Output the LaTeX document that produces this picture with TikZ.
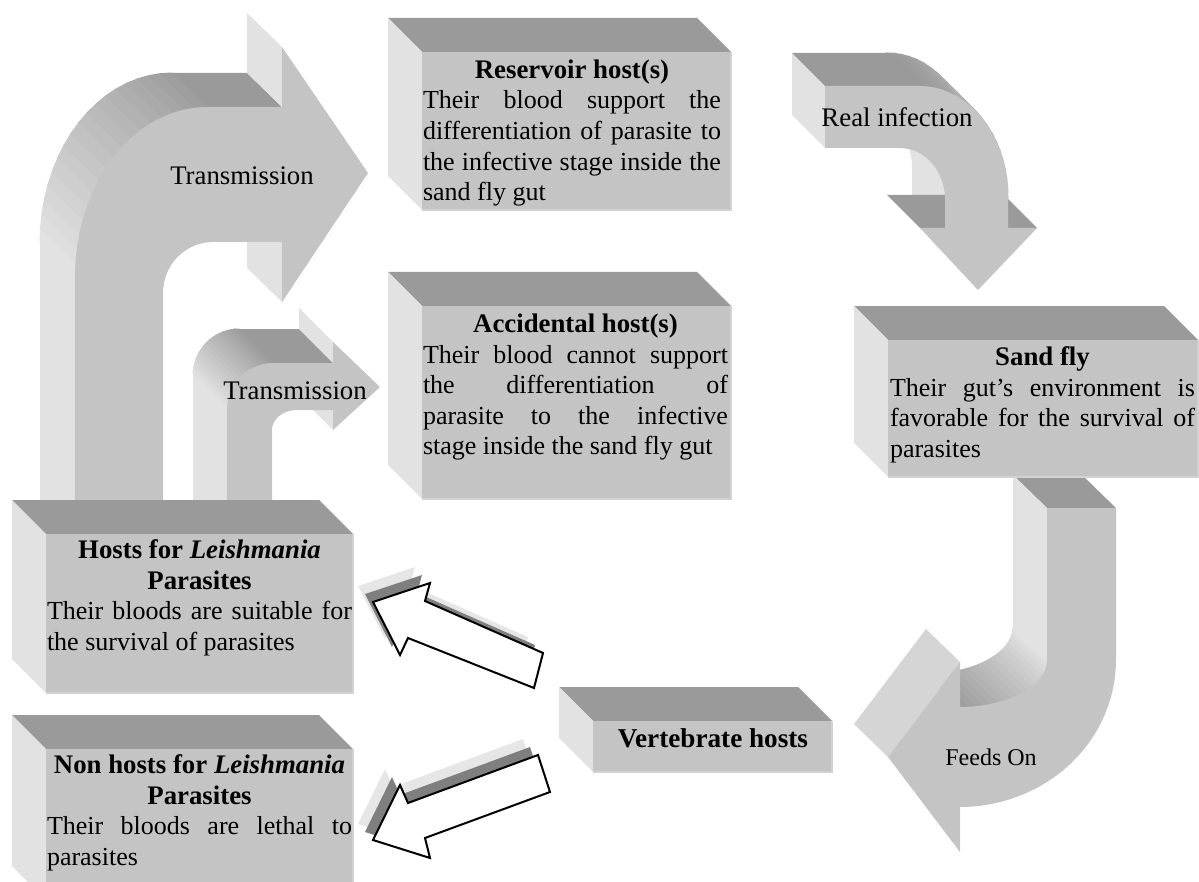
\documentclass[tikz,border=0pt]{standalone}
\usepackage{fontspec}
\setmainfont{Liberation Serif}
\setlength{\parindent}{0pt}
\definecolor{facegray}{HTML}{C4C4C4}
\definecolor{topgray}{HTML}{9A9A9A}
\definecolor{sidegray}{HTML}{E2E2E2}
\definecolor{headgray}{HTML}{D5D5D5}
\definecolor{edgegray}{HTML}{D2D2D2}
\definecolor{shadedark}{HTML}{7F7F7F}
\definecolor{shadelight}{HTML}{E6E6E6}

\begin{document}
\begin{tikzpicture}[x=0.5pt,y=-0.5pt,
  boxtext/.style={anchor=north,inner sep=0pt,align=justify,font=\fontsize{13}{15.3}\selectfont},
  arrowtext/.style={inner sep=0pt,font=\fontsize{13.4}{15.3}\selectfont},
  whitearrow/.style={fill=white,draw=black,line width=1pt}]
\useasboundingbox (0,0) rectangle (1199,882);
\clip (0,0) rectangle (1199,882);

% big transmission arrow
\fill[sidegray] (75,534) -- (75,277) -- (40,243) -- (40,500) -- cycle;
\foreach \a in {180,185,...,265}{
  \pgfmathsetmacro\pct{(\a-180)/0.9}
  \path[fill=topgray!\pct!sidegray,draw=topgray!\pct!sidegray,line width=0.5pt]
    ({207+132*cos(\a)},{277+170*sin(\a)}) -- ({207+132*cos(\a+5)},{277+170*sin(\a+5)})
    -- ({172+132*cos(\a+5)},{243+170*sin(\a+5)}) -- ({172+132*cos(\a)},{243+170*sin(\a)}) -- cycle;
}
\fill[topgray] (207,107) -- (282,107) -- (247,73) -- (172,73) -- cycle;
\fill[sidegray] (282,107) -- (282,47) -- (247,13) -- (247,73) -- cycle;
\fill[sidegray] (282,242) -- (282,302) -- (247,268) -- (247,208) -- cycle;
\fill[facegray] (75,534) -- (75,277)
  -- plot[domain=180:270,samples=25] ({207+132*cos(\x)},{277+170*sin(\x)})
  -- (282,107) -- (282,47) -- (368,173) -- (282,302) -- (282,242)
  -- plot[domain=270:180,samples=15] ({213+50*cos(\x)},{293+51*sin(\x)})
  -- (163,534) -- cycle;

% small transmission arrow
\fill[sidegray] (227,534) -- (227,410) -- (193,376) -- (193,500) -- cycle;
\foreach \a in {180,185,...,265}{
  \pgfmathsetmacro\pct{(\a-180)/0.9}
  \path[fill=topgray!\pct!sidegray,draw=topgray!\pct!sidegray,line width=0.5pt]
    ({273+46*cos(\a)},{410+47*sin(\a)}) -- ({273+46*cos(\a+5)},{410+47*sin(\a+5)})
    -- ({239+46*cos(\a+5)},{376+47*sin(\a+5)}) -- ({239+46*cos(\a)},{376+47*sin(\a)}) -- cycle;
}
\fill[topgray] (273,363) -- (333,363) -- (299,329) -- (239,329) -- cycle;
\fill[sidegray] (333,363) -- (333,342) -- (299,308) -- (299,329) -- cycle;
\fill[sidegray] (333,410) -- (333,430) -- (299,396) -- (299,376) -- cycle;
\fill[facegray] (227,534) -- (227,410)
  -- plot[domain=180:270,samples=15] ({273+46*cos(\x)},{410+47*sin(\x)})
  -- (333,363) -- (333,342) -- (380,387) -- (333,430) -- (333,410)
  -- plot[domain=270:180,samples=10] ({297+25*cos(\x)},{430+20*sin(\x)})
  -- (272,534) -- cycle;

% real infection arrow
\fill[sidegray] (825,86) -- (825,148) -- (792,115) -- (792,53) -- cycle;
\fill[topgray] (825,86) -- (920,86) -- (887,53) -- (792,53) -- cycle;
\foreach \a in {270,275,...,355}{
  \pgfmathsetmacro\pct{100-(\a-270)/1.5}
  \path[fill=topgray!\pct!sidegray,draw=topgray!\pct!sidegray,line width=0.5pt]
    ({920+88*cos(\a)},{197+111*sin(\a)}) -- ({920+88*cos(\a+5)},{197+111*sin(\a+5)})
    -- ({887+88*cos(\a+5)},{164+111*sin(\a+5)}) -- ({887+88*cos(\a)},{164+111*sin(\a)}) -- cycle;
}
\fill[sidegray] plot[domain=270:360,samples=15] ({900+45*cos(\x)},{200+52*sin(\x)})
  -- (945,228) -- (912,195)
  -- plot[domain=360:270,samples=15] ({867+45*cos(\x)},{167+52*sin(\x)}) -- cycle;
\fill[topgray] (887,195) -- (945,195) -- (945,228) -- (920,228) -- cycle;
\fill[topgray] (1008,199) -- (1037,228) -- (1008,228) -- cycle;
\fill[facegray] (825,86)
  -- plot[domain=270:360,samples=20] ({920+88*cos(\x)},{197+111*sin(\x)})
  -- (1008,228) -- (1037,228) -- (978,290) -- (920,228) -- (945,228)
  -- plot[domain=360:270,samples=15] ({900+45*cos(\x)},{200+52*sin(\x)})
  -- (825,148) -- cycle;

% feeds on arrow
\fill[topgray] (1047,508) -- (1116,508) -- (1082,475) -- (1013,475) -- cycle;
\fill[sidegray] (1047,508) -- (1047,660) -- (1013,627) -- (1013,475) -- cycle;
\foreach \a in {0,5,...,85}{
  \pgfmathsetmacro\pct{\a/0.9}
  \path[fill=topgray!\pct!sidegray,draw=topgray!\pct!sidegray,line width=0.5pt]
    ({960+87*cos(\a)},{660+47*sin(\a)}) -- ({960+87*cos(\a+5)},{660+47*sin(\a+5)})
    -- ({926+87*cos(\a+5)},{627+47*sin(\a+5)}) -- ({926+87*cos(\a)},{627+47*sin(\a)}) -- cycle;
}
\fill[headgray] (926,629) -- (960,662) -- (888,757) -- (854,724) -- cycle;
\fill[facegray] (1047,508) -- (1116,508)
  -- plot[domain=0:90,samples=25] ({960+156*cos(\x)},{660+147*sin(\x)})
  -- (960,852) -- (888,757) -- (960,662)
  -- plot[domain=90:0,samples=15] ({960+87*cos(\x)},{660+47*sin(\x)})
  -- cycle;

% boxes: front x1/y1/x2/y2
\foreach \xa/\ya/\xb/\yb in {422/52/731/210, 422/306/731/499, 888/340/1198/477,
    46/534/353/693, 46/749/353/900, 593/721/832/772}{
  \fill[topgray] (\xa,\ya) -- (\xb,\ya) -- (\xb-34,\ya-34) -- (\xa-34,\ya-34) -- cycle;
  \fill[sidegray] (\xa,\ya) -- (\xa,\yb) -- (\xa-34,\yb-34) -- (\xa-34,\ya-34) -- cycle;
  \fill[facegray] (\xa,\ya) rectangle (\xb,\yb);
  \draw[edgegray,line width=0.8pt] (\xb,\ya) -- (\xb,\yb) -- (\xa,\yb);
}

% white arrows with shadow
\foreach \dx/\dy/\shadecol in {-15/-16/shadelight,-8/-8/shadedark}{
  \fill[fill=\shadecol,shift={(\dx,\dy)}] (373,602) -- (430,583) -- (425,601) -- (543,653)
    -- (534,688) -- (408,638) -- (400,655) -- cycle;
  \fill[fill=\shadecol,shift={(\dx,\dy)}] (373,840) -- (400,785) -- (408,803) -- (538,755)
    -- (550,792) -- (425,838) -- (430,858) -- cycle;
}
\draw[whitearrow] (373,602) -- (430,583) -- (425,601) -- (543,653)
  -- (534,688) -- (408,638) -- (400,655) -- cycle;
\draw[whitearrow] (373,840) -- (400,785) -- (408,803) -- (538,755)
  -- (550,792) -- (425,838) -- (430,858) -- cycle;

% texts
\node[boxtext,text width=149pt] (reservoir) at (572,58)
  {{\centering\rule{0pt}{10pt}\fontsize{13.4}{15.3}\selectfont\textbf{Reservoir host(s)}\par}
   Their blood support the\linebreak differentiation of parasite to\linebreak
   the infective stage inside the\linebreak sand fly gut};
\node[boxtext,text width=152.5pt] (accidental) at (575.5,312)
  {{\centering\rule{0pt}{10pt}\fontsize{13.4}{15.3}\selectfont\textbf{Accidental host(s)}\par}
   Their blood cannot support\linebreak the differentiation of\linebreak
   parasite to the infective\linebreak stage inside the sand fly gut};
\node[boxtext,text width=152.5pt] (sandfly) at (1042.5,345)
  {{\centering\rule{0pt}{10pt}\fontsize{13.4}{15.3}\selectfont\textbf{Sand fly}\par}
   Their gut’s environment is\linebreak favorable for the survival of\linebreak parasites};
\node[boxtext,text width=152.5pt] (hosts) at (199.5,538)
  {{\centering\rule{0pt}{10pt}\fontsize{13.4}{15.3}\selectfont\textbf{Hosts for \textit{Leishmania}}\\\textbf{Parasites}\par}
   Their bloods are suitable for\linebreak the survival of parasites};
\node[boxtext,text width=152.5pt] (nonhosts) at (199.5,753)
  {{\centering\rule{0pt}{10pt}\fontsize{13.4}{15.3}\selectfont\textbf{Non hosts for \textit{Leishmania}}\\\textbf{Parasites}\par}
   Their bloods are lethal to\linebreak parasites};
\node[arrowtext,anchor=base,font=\bfseries\fontsize{13.6}{15.3}\selectfont] (vertebrate) at (713,747) {Vertebrate hosts};
\node[arrowtext] (transbig) at (242,176) {Transmission};
\node[arrowtext] (transsmall) at (295,391) {Transmission};
\node[arrowtext] (realinf) at (897,117) {Real infection};
\node[arrowtext,font=\fontsize{12}{14}\selectfont] (feeds) at (991,757) {Feeds On};
\end{tikzpicture}
\end{document}
